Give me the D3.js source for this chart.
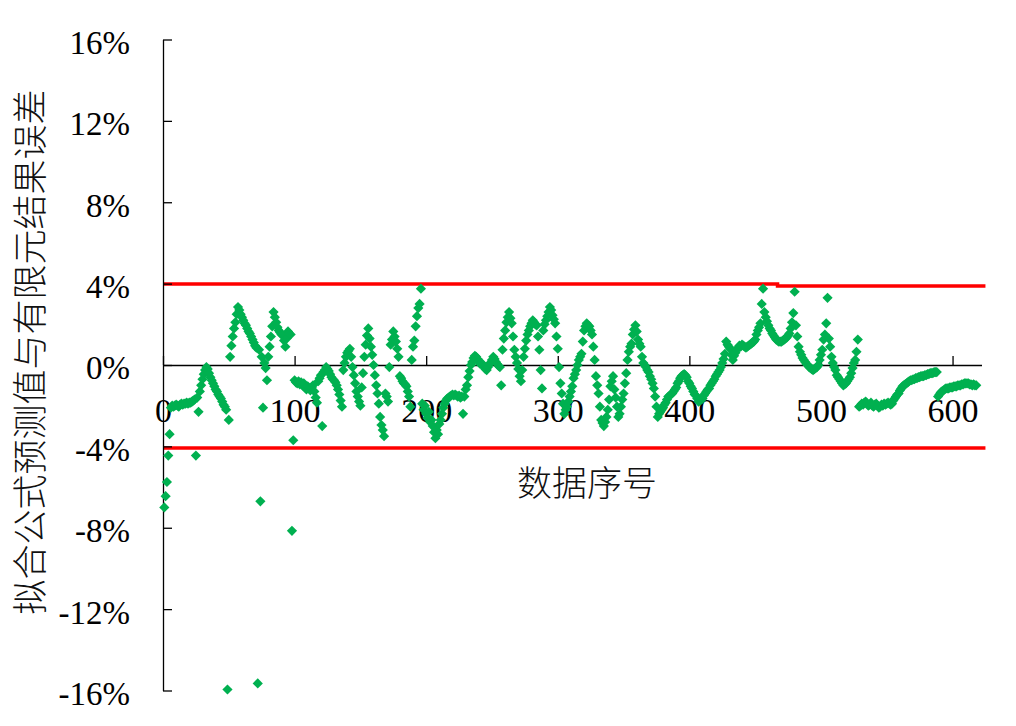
<!DOCTYPE html>
<html>
<head>
<meta charset="utf-8">
<script src="https://cdn.jsdelivr.net/npm/d3@7"></script>
<style>
  body { margin: 0; background: #fff; }
  svg { display: block; }
  .axis-title { font-family: 'Noto Sans CJK SC', sans-serif; font-size: 35px; fill: #111; font-weight: 300; }
</style>
</head>
<body>
<div id="chart"></div>
<script>
// tick values
const xTicks = [0, 100, 200, 300, 400, 500, 600];
const yTicks = [-16, -12, -8, -4, 0, 4, 8, 12, 16];

// red limit lines, [index, percent]
const upperLimit = [[0, 3.98], [467, 3.98], [467, 3.88], [625, 3.88]];
const lowerLimit = [[0, -4.08], [625, -4.08]];

// error (%) for data index 1, 2, 3 ...
const errorPct = [
  -7.0, -6.45, -5.75, -4.45, -3.4, -2.1, -2.0, -2.05, -2.0, -1.95,
  -2.0, -2.05, -1.95, -1.9, -1.95, -1.9, -1.9, -1.85, -1.9, -1.85,
  -1.85, -1.8, -1.75, -1.7, -4.45, -1.6, -2.3, -1.3, -1.0, -0.7,
  -0.45, -0.25, -0.1, -0.2, -0.4, -0.6, -0.75, -0.9, -1.05, -1.2,
  -1.3, -1.45, -1.55, -1.65, -1.8, -1.95, -2.05, -2.2, -15.95, -2.7,
  0.4, 0.95, 1.4, 1.8, 2.1, 2.5, 2.85, 2.7, 2.5, 2.35,
  2.2, 2.05, 1.95, 1.8, 1.65, 1.55, 1.4, 1.25, 1.1, 0.95,
  0.85, -15.65, 0.75, -6.7, 0.4, -2.1, 0.1, -0.15, -0.75, 0.4,
  0.9, 1.4, 1.9, 2.6, 2.35, 2.1, 1.85, 1.7, 1.6, 1.5,
  1.45, 1.2, 0.9, 1.3, 1.65, 1.55, 1.5, -8.15, -3.7, -0.75,
  -0.85, -0.9, -0.8, -0.95, -0.85, -1.0, -0.9, -1.1, -1.2, -1.05,
  -1.15, -1.25, -1.1, -1.0, -1.3, -1.6, -1.85, -0.8, -0.65, -0.5,
  -3.0, -0.35, -0.25, -0.1, -0.2, -0.3, -0.45, -0.6, -0.7, -0.75,
  -0.85, -1.0, -1.2, -1.45, -1.75, -2.05, -0.25, 0.1, 0.4, 0.6,
  0.7, 0.8, 0.4, -0.1, -0.5, -0.9, -1.3, -1.55, -1.8, -2.0,
  -1.1, -0.4, 0.4, 1.0, 1.45, 1.8, 1.3, 0.9, 0.5, 0.0,
  -0.5, -1.0, -1.4, -1.9, -2.55, -2.95, -3.2, -3.5, -1.4, -1.55,
  -1.8, -0.1, 1.0, 1.25, 1.65, 1.4, 1.15, 0.8, 0.4, -0.55,
  -0.65, -0.8, -0.9, -0.95, -1.05, -1.3, -1.55, -2.05, 0.25, 0.9,
  1.2, 1.9, 2.4, 2.8, 3.0, 3.75, -1.9, -2.2, -2.0, -2.4,
  -2.6, -2.3, -2.8, -2.7, -3.0, -3.3, -3.6, -3.2, -3.4, -2.9,
  -2.7, -2.4, -2.1, -1.9, -1.75, -1.65, -1.6, -1.55, -1.5, -1.45,
  -1.5, -1.45, -1.5, -1.55, -1.5, -1.6, -1.55, -2.4, -1.55, -1.2,
  -1.0, -0.6, -0.3, 0.0, 0.15, 0.35, 0.45, 0.4, 0.3, 0.15,
  0.05, 0.1, 0.0, -0.1, -0.2, -0.25, -0.1, 0.05, 0.1, 0.25,
  0.4, 0.3, 0.15, 0.05, -0.05, -0.1, -1.0, 0.75, 1.3, 1.7,
  2.1, 2.35, 2.6, 2.3, 2.05, 1.4, 0.75, 0.4, 0.1, -0.2,
  -0.55, -0.8, -0.25, 0.4, 0.8, 1.2, 1.5, 1.7, 1.9, 2.05,
  2.2, 2.1, 2.0, 1.95, 1.4, 0.75, -0.25, -1.15, 1.7, 2.0,
  2.2, 2.4, 2.6, 2.85, 2.7, 2.45, 2.25, 2.05, 1.4, 0.8,
  -0.1, -0.9, -1.4, -1.9, -2.4, -2.2, -2.05, -1.8, -1.55, -1.3,
  -1.05, -0.65, -0.45, -0.25, 0.0, 0.25, 0.4, 0.55, 1.15, 1.7,
  1.9, 2.05, 1.95, 1.9, 1.7, 1.5, 0.9, 0.25, -0.55, -1.0,
  -1.4, -2.05, -2.7, -2.85, -3.0, -2.8, -2.55, -2.2, -1.7, -1.05,
  -0.8, -0.55, -1.2, -1.6, -2.05, -2.55, -2.4, -2.05, -1.7, -1.4,
  -0.9, -0.4, 0.25, 0.65, 0.9, 1.05, 1.5, 1.75, 1.95, 1.65,
  1.25, 1.05, 0.9, 0.4, 0.1, 0.0, -0.1, -0.25, -0.35, -0.55,
  -0.7, -0.9, -1.15, -1.55, -2.05, -2.55, -2.4, -2.3, -2.2, -2.1,
  -1.95, -1.85, -1.7, -1.55, -1.5, -1.45, -1.4, -1.3, -1.2, -1.1,
  -0.9, -0.8, -0.65, -0.55, -0.5, -0.45, -0.5, -0.6, -0.8, -0.9,
  -1.05, -1.15, -1.3, -1.45, -1.5, -1.65, -1.8, -1.75, -1.7, -1.65,
  -1.5, -1.4, -1.3, -1.2, -1.15, -1.0, -0.9, -0.8, -0.7, -0.55,
  -0.45, -0.35, -0.25, -0.1, 0.1, 0.3, 0.55, 1.15, 1.0, 0.9,
  0.8, 0.5, 0.25, 0.45, 0.6, 0.75, 0.85, 0.95, 0.9, 1.0,
  0.95, 0.9, 0.85, 0.9, 0.95, 1.0, 1.05, 1.1, 1.15, 1.25,
  1.5, 1.7, 1.85, 2.05, 3.0, 3.75, 2.6, 2.35, 2.15, 1.95,
  1.8, 1.7, 1.55, 1.45, 1.35, 1.25, 1.2, 1.15, 1.15, 1.15,
  1.2, 1.25, 1.3, 1.35, 1.45, 1.55, 1.8, 2.1, 2.55, 3.6,
  1.95, 1.4, 0.9, 0.65, 0.5, 0.35, 0.25, 0.15, 0.05, 0.0,
  -0.1, -0.15, -0.2, -0.25, -0.2, -0.15, -0.1, 0.0, 0.25, 0.5,
  0.75, 1.25, 1.5, 2.05, 3.3, 1.3, 0.9, 0.4, 0.1, -0.1,
  -0.25, -0.5, -0.6, -0.7, -0.8, -0.9, -1.0, -0.95, -0.9, -0.8,
  -0.7, -0.6, -0.4, -0.15, 0.1, 0.25, 0.65, 1.25, -2.05, -2.0,
  -1.9, -1.95, -1.85, -1.8, -1.9, -2.0, -1.95, -1.85, -2.0, -2.05,
  -1.95, -1.9, -2.0, -2.1, -2.05, -1.95, -2.0, -1.9, -1.95, -1.9,
  -1.85, -1.9, -1.95, -1.9, -1.75, -1.65, -1.55, -1.45, -1.4, -1.25,
  -1.15, -1.05, -1.0, -0.95, -0.9, -0.85, -0.8, -0.75, -0.75, -0.7,
  -0.7, -0.65, -0.65, -0.6, -0.6, -0.55, -0.55, -0.55, -0.5, -0.5,
  -0.45, -0.45, -0.4, -0.4, -0.4, -0.35, -0.35, -0.35,
  -1.55, -1.45, -1.35, -1.3, -1.25, -1.2, -1.15, -1.15, -1.15, -1.1, -1.1, -1.1,
  -1.05, -1.05, -1.05, -1.0, -1.0, -1.0, -0.95, -0.95, -0.9, -0.9,
  -0.9, -0.9, -0.95, -0.95, -1.0, -0.95, -1.0, -1.0
];

const WIDTH = 1016;
const HEIGHT = 726;
const GREEN = '#00B050';
const RED = '#FF0000';
const SERIF = "'Liberation Serif', 'Times New Roman', 'DejaVu Serif', serif";

const points = errorPct.map((v, i) => ({ idx: i + 1, err: v }));

const scaleX = d3.scaleLinear().domain([0, 622]).range([163, 981.5]);
const scaleY = d3.scaleLinear().domain([-16, 16]).range([690.5, 39.5]);

const $svg = d3.select('#chart').append('svg')
  .attr('width', WIDTH)
  .attr('height', HEIGHT);

// limit lines
const line = d3.line().x((d) => scaleX(d[0])).y((d) => scaleY(d[1]));
$svg.append('g').attr('class', 'g-limits')
  .selectAll('path')
  .data([upperLimit, lowerLimit])
  .join('path')
  .attr('d', line)
  .attr('fill', 'none')
  .attr('stroke', RED)
  .attr('stroke-width', 3.5);

// y axis, ticks pointing inward, labels on the left
$svg.append('g').attr('class', 'axis-y')
  .attr('transform', `translate(${scaleX(0)},0)`)
  .call(d3.axisRight(scaleY).tickValues(yTicks).tickSize(9).tickSizeOuter(0).tickFormat((d) => `${d}%`))
  .attr('font-family', SERIF)
  .attr('font-size', 33)
  .call((g) => g.selectAll('.tick text').attr('x', -33).attr('dy', '0.42em').attr('text-anchor', 'end').attr('fill', '#000'))
  .call((g) => g.selectAll('line, path').attr('stroke', '#000').attr('stroke-width', 1.3));

// x axis on the zero line, ticks pointing up, labels below
$svg.append('g').attr('class', 'axis-x')
  .attr('transform', `translate(0,${scaleY(0)})`)
  .call(d3.axisTop(scaleX).tickValues(xTicks).tickSize(9).tickSizeOuter(0))
  .attr('font-family', SERIF)
  .attr('font-size', 34)
  .call((g) => g.selectAll('.tick text').attr('y', 45).attr('dy', '0.36em').attr('fill', '#000'))
  .call((g) => g.selectAll('line, path').attr('stroke', '#000').attr('stroke-width', 1.3));

// points
const diamond = d3.symbol(d3.symbolSquare, 52);
$svg.append('g').attr('class', 'g-points')
  .selectAll('path')
  .data(points)
  .join('path')
  .attr('d', diamond)
  .attr('transform', (d) => `translate(${scaleX(d.idx)},${scaleY(d.err)}) rotate(45)`)
  .attr('fill', GREEN);

// titles
$svg.append('text').attr('class', 'axis-title')
  .attr('x', 587)
  .attr('y', 484)
  .attr('dy', '0.35em')
  .attr('text-anchor', 'middle')
  .text('数据序号');

$svg.append('text').attr('class', 'axis-title')
  .attr('transform', 'translate(31,352) rotate(-90)')
  .attr('dy', '0.35em')
  .attr('text-anchor', 'middle')
  .text('拟合公式预测值与有限元结果误差');
</script>
</body>
</html>
